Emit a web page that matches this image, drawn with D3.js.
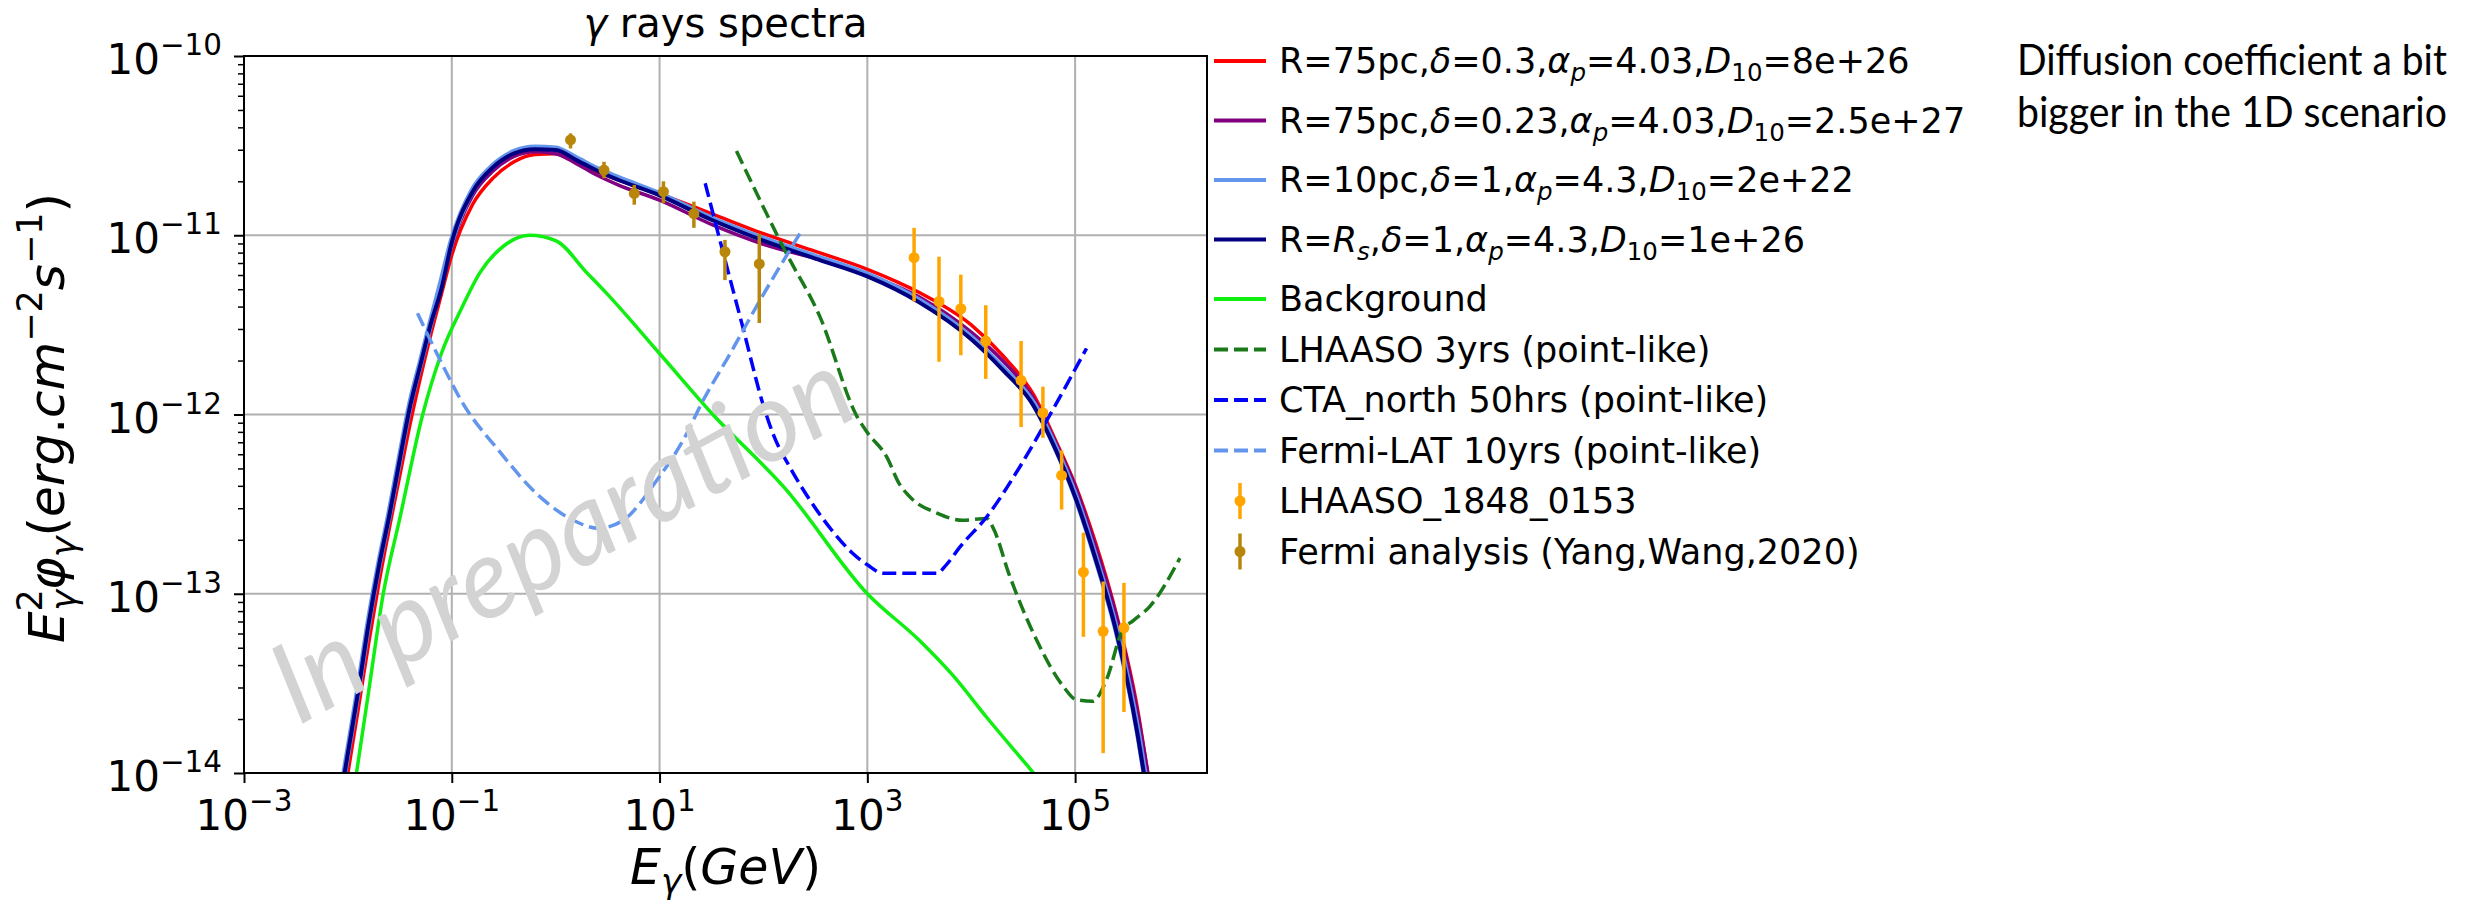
<!DOCTYPE html>
<html>
<head>
<meta charset="utf-8">
<script src="https://cdn.jsdelivr.net/npm/d3@7"></script>
<style>
  html, body { margin: 0; padding: 0; background: #fff; }
  svg text { font-family: "DejaVu Sans", sans-serif; fill: #000; }
</style>
</head>
<body>
<svg id="chart" width="2476" height="908"></svg>
<script>
// ---- data (E in GeV, E^2 phi in erg cm^-2 s^-1) ----

// energies shared by the four model curves
const modelEnergy = [0.0079, 0.01, 0.0126, 0.0158, 0.02, 0.0251, 0.0316, 0.0398, 0.0501, 0.0631, 0.0794, 0.1,
  0.158, 0.251, 0.398, 0.631, 1, 1.58, 2.51, 3.98,
  10, 31.6, 100, 316, 1000, 3162, 1e4,
  2e4, 3.98e4, 6.31e4, 1e5, 1.58e5, 2.51e5, 3.98e5, 5.01e5, 6.31e5];

const fluxR75d03 = [4.47e-15, 1.00e-14, 2.29e-14, 5.25e-14, 1.17e-13, 2.34e-13, 4.57e-13, 8.91e-13, 1.62e-12, 2.82e-12, 4.68e-12, 7.76e-12,
  1.48e-11, 2.09e-11, 2.57e-11, 2.82e-11, 2.85e-11, 2.57e-11, 2.26e-11, 2.04e-11,
  1.70e-11, 1.32e-11, 1.02e-11, 8.13e-12, 6.46e-12, 4.79e-12, 3.16e-12,
  2.14e-12, 1.29e-12, 7.41e-13, 4.07e-13, 1.91e-13, 7.59e-14, 2.29e-14, 1.00e-14, 4.47e-15];

const fluxR75d023 = [5.37e-15, 1.20e-14, 2.75e-14, 6.46e-14, 1.38e-13, 2.63e-13, 5.37e-13, 1.07e-12, 1.82e-12, 3.09e-12, 5.13e-12, 8.71e-12,
  1.66e-11, 2.29e-11, 2.75e-11, 2.92e-11, 2.85e-11, 2.51e-11, 2.16e-11, 1.91e-11,
  1.57e-11, 1.15e-11, 8.91e-12, 7.41e-12, 6.03e-12, 4.52e-12, 2.88e-12,
  2.00e-12, 1.23e-12, 7.24e-13, 3.98e-13, 1.82e-13, 7.41e-14, 2.19e-14, 1.00e-14, 4.47e-15];

const fluxR10 = [5.75e-15, 1.32e-14, 2.95e-14, 6.92e-14, 1.48e-13, 2.82e-13, 5.75e-13, 1.15e-12, 1.95e-12, 3.31e-12, 5.50e-12, 9.33e-12,
  1.78e-11, 2.45e-11, 2.92e-11, 3.09e-11, 3.05e-11, 2.69e-11, 2.34e-11, 2.09e-11,
  1.70e-11, 1.24e-11, 9.55e-12, 7.59e-12, 6.03e-12, 4.32e-12, 2.69e-12,
  1.82e-12, 1.15e-12, 6.76e-13, 3.55e-13, 1.58e-13, 6.17e-14, 1.74e-14, 7.59e-15, 3.31e-15];

const fluxRs = [5.62e-15, 1.29e-14, 2.88e-14, 6.76e-14, 1.45e-13, 2.75e-13, 5.62e-13, 1.12e-12, 1.91e-12, 3.24e-12, 5.01e-12, 9.12e-12,
  1.74e-11, 2.40e-11, 2.86e-11, 3.02e-11, 2.99e-11, 2.63e-11, 2.29e-11, 2.04e-11,
  1.67e-11, 1.22e-11, 9.33e-12, 7.41e-12, 5.89e-12, 4.22e-12, 2.63e-12,
  1.78e-12, 1.12e-12, 6.61e-13, 3.47e-13, 1.55e-13, 6.03e-14, 1.66e-14, 7.24e-15, 3.16e-15];

const bgEnergy = [0.01, 0.0121, 0.0158, 0.0219, 0.0316, 0.0525, 0.0794, 0.126, 0.186, 0.316, 0.562, 1,
  2, 3.16, 10, 31.6, 166, 1000, 3162, 6761, 14125, 39811, 50119];
const bgFlux = [4.68e-15, 1.0e-14, 2.82e-14, 1.0e-13, 2.63e-13, 1.0e-12, 2.19e-12, 3.98e-12, 6.17e-12, 8.71e-12, 1.0e-11, 9.33e-12,
  6.17e-12, 4.68e-12, 2.19e-12, 1.02e-12, 3.80e-13, 1.0e-13, 5.50e-14, 3.47e-14, 2.04e-14, 1.0e-14, 8.51e-15];

// sensitivity curves
const lhaasoSensE = [55, 166, 347, 794, 1000, 1550, 2000, 2570, 4680, 8320, 14100, 16200, 23400, 42700, 77600,
  1.02e5, 1.48e5, 2.0e5, 2.88e5, 3.63e5, 5.25e5, 1.02e6];
const lhaasoSensF = [2.95e-11, 7.94e-12, 3.55e-12, 9.77e-13, 7.94e-13, 5.75e-13, 4.17e-13, 3.47e-13, 2.82e-13, 2.57e-13, 2.63e-13, 2.34e-13, 1.26e-13, 5.50e-14, 3.02e-14,
  2.57e-14, 2.51e-14, 3.31e-14, 6.31e-14, 7.08e-14, 8.51e-14, 1.58e-13];

const ctaSensE = [27.5, 39.8, 63.1, 100, 126, 178, 282, 447, 708, 1000, 1413, 4677, 5754, 7762, 14125, 29512, 53703, 128825];
const ctaSensF = [1.95e-11, 8.51e-12, 3.09e-12, 1.12e-12, 7.59e-13, 5.13e-13, 3.31e-13, 2.29e-13, 1.70e-13, 1.45e-13, 1.30e-13, 1.30e-13, 1.45e-13, 1.82e-13, 2.69e-13, 5.13e-13, 9.33e-13, 2.34e-12];

const fermiSensE = [0.0468, 0.0776, 0.126, 0.282, 0.708, 1.48, 2.57, 4.47, 9.33, 17.0, 26.3, 47.9, 89.1, 224];
const fermiSensF = [3.67e-12, 2.00e-12, 1.17e-12, 6.31e-13, 3.47e-13, 2.57e-13, 2.32e-13, 2.57e-13, 4.27e-13, 7.24e-13, 1.20e-12, 2.19e-12, 4.17e-12, 1.02e-11];

// measured points
const lhaasoPtE = [2818, 4898, 7943, 13804, 30200, 48978, 74131, 120226, 186209, 295121];
const lhaasoPtF = [7.50e-12, 4.27e-12, 3.89e-12, 2.57e-12, 1.55e-12, 1.02e-12, 4.57e-13, 1.32e-13, 6.17e-14, 6.46e-14];
const lhaasoPtHi = [1.10e-11, 7.59e-12, 6.03e-12, 4.07e-12, 2.57e-12, 1.43e-12, 6.31e-13, 2.19e-13, 1.17e-13, 1.15e-13];
const lhaasoPtLo = [4.27e-12, 1.97e-12, 2.14e-12, 1.58e-12, 8.51e-13, 7.41e-13, 2.95e-13, 5.75e-14, 1.29e-14, 2.19e-14];

const fermiPtE = [1.39, 2.92, 5.71, 10.9, 21.4, 42.6, 91.2];
const fermiPtF = [3.40e-11, 2.31e-11, 1.71e-11, 1.75e-11, 1.32e-11, 8.09e-12, 6.92e-12];
const fermiPtHi = [3.70e-11, 2.57e-11, 1.91e-11, 2.00e-11, 1.54e-11, 9.42e-12, 1.02e-11];
const fermiPtLo = [3.05e-11, 2.08e-11, 1.48e-11, 1.51e-11, 1.10e-11, 5.62e-12, 3.24e-12];

// labels  (*x* italic, [x] italic subscript, {x} upright subscript, ^x^ superscript)
const seriesNames = [
  "R=75pc,*δ*=0.3,*α*[p]=4.03,*D*{10}=8e+26",
  "R=75pc,*δ*=0.23,*α*[p]=4.03,*D*{10}=2.5e+27",
  "R=10pc,*δ*=1,*α*[p]=4.3,*D*{10}=2e+22",
  "R=*R*[s],*δ*=1,*α*[p]=4.3,*D*{10}=1e+26",
  "Background",
  "LHAASO 3yrs (point-like)",
  "CTA_north 50hrs (point-like)",
  "Fermi-LAT 10yrs (point-like)",
  "LHAASO_1848_0153",
  "Fermi analysis (Yang,Wang,2020)"
];
const xTicks = [1e-3, 1e-1, 1e1, 1e3, 1e5];
const xTickExp = ["−3", "−1", "1", "3", "5"];
const yTicks = [1e-14, 1e-13, 1e-12, 1e-11, 1e-10];
const yTickExp = ["−14", "−13", "−12", "−11", "−10"];
const titleText = "*γ* rays spectra";
const xLabelText = "*E*[γ](*GeV*)";
const yLabelText = "*E*^2^[γ]*φ*[γ](*erg*.*cm*^−2^*s*^−1^)";
const noteLines = ["Diffusion coefficient a bit", "bigger in the 1D scenario"];
const watermarkText = "In preparation";

// ---- layout ----
const plot = {left: 244, right: 1207, top: 56, bottom: 773};
const svg = d3.select("#chart");

const x = d3.scaleLog().domain([1e-3, 1.86e6]).range([plot.left, plot.right]);
const y = d3.scaleLog().domain([1e-14, 1e-10]).range([plot.bottom, plot.top]);

// write a label with simple math markup into a text element
function rich(sel, str, size, subShift = 0.24) {
  const parts = str.split(/(\*[^*]+\*|\[[^\]]+\]|\{[^}]+\}|\^[^^]+\^)/).filter(s => s.length);
  let cur = 0, prevSupW = 0;
  parts.forEach(p => {
    let txt = p, it = false, target = 0, fs = size, dx = 0;
    const c = p[0];
    if (c === "*") { txt = p.slice(1, -1); it = true; }
    else if (c === "[") { txt = p.slice(1, -1); it = true; target = subShift * size; fs = 0.7 * size; }
    else if (c === "{") { txt = p.slice(1, -1); target = subShift * size; fs = 0.7 * size; }
    else if (c === "^") { txt = p.slice(1, -1); target = -0.45 * size; fs = 0.7 * size; }
    if ((c === "[") && prevSupW) dx = -prevSupW;
    const t = sel.append("tspan").text(txt).attr("font-size", fs).attr("dy", target - cur);
    if (dx) t.attr("dx", dx);
    if (it) t.attr("font-style", "italic");
    prevSupW = (c === "^") ? fs * 0.62 * txt.length : 0;
    cur = target;
  });
}

svg.append("rect").attr("width", 2476).attr("height", 908).attr("fill", "#fff");

// grid
const grid = svg.append("g").attr("stroke", "#b0b0b0").attr("stroke-width", 2);
grid.selectAll(".gx").data(xTicks).join("line")
  .attr("x1", d => x(d)).attr("x2", d => x(d)).attr("y1", plot.top).attr("y2", plot.bottom);
grid.selectAll(".gy").data(yTicks).join("line")
  .attr("y1", d => y(d)).attr("y2", d => y(d)).attr("x1", plot.left).attr("x2", plot.right);

// clip
svg.append("clipPath").attr("id", "clip").append("rect")
  .attr("x", plot.left).attr("y", plot.top)
  .attr("width", plot.right - plot.left).attr("height", plot.bottom - plot.top);

const line = d3.line().x(d => x(d[0])).y(d => y(d[1])).curve(d3.curveMonotoneX);
const zip = (a, b) => a.map((v, i) => [v, b[i]]);

const curves = [
  {pts: zip(modelEnergy, fluxR75d03), color: "#ff0000", w: 3.5},
  {pts: zip(modelEnergy, fluxR75d023), color: "#800080", w: 3.5},
  {pts: zip(modelEnergy, fluxR10), color: "#6495ed", w: 6},
  {pts: zip(modelEnergy, fluxRs), color: "#000080", w: 4},
  {pts: zip(bgEnergy, bgFlux), color: "#11ee11", w: 3.5},
  {pts: zip(lhaasoSensE, lhaasoSensF), color: "#1a7a1a", w: 3.5, dash: "14,6"},
  {pts: zip(ctaSensE, ctaSensF), color: "#0000ff", w: 3.5, dash: "14,6"},
  {pts: zip(fermiSensE, fermiSensF), color: "#6495ed", w: 3.5, dash: "14,6"}
];

const plotG = svg.append("g").attr("clip-path", "url(#clip)");
plotG.selectAll("path.curve").data(curves).join("path")
  .attr("class", "curve")
  .attr("d", d => line(d.pts))
  .attr("fill", "none")
  .attr("stroke", d => d.color)
  .attr("stroke-width", d => d.w)
  .attr("stroke-dasharray", d => d.dash || null);

const pointSets = [
  {E: lhaasoPtE, F: lhaasoPtF, hi: lhaasoPtHi, lo: lhaasoPtLo, color: "#ffa500"},
  {E: fermiPtE, F: fermiPtF, hi: fermiPtHi, lo: fermiPtLo, color: "#b8860b"}
];
pointSets.forEach(s => {
  const g = plotG.append("g");
  g.selectAll("line").data(s.E).join("line")
    .attr("x1", d => x(d)).attr("x2", d => x(d))
    .attr("y1", (d, i) => y(s.hi[i])).attr("y2", (d, i) => y(s.lo[i]))
    .attr("stroke", s.color).attr("stroke-width", 3.5);
  g.selectAll("circle").data(s.E).join("circle")
    .attr("cx", d => x(d)).attr("cy", (d, i) => y(s.F[i])).attr("r", 5.5)
    .attr("fill", s.color);
});

// frame
svg.append("rect").attr("x", plot.left).attr("y", plot.top)
  .attr("width", plot.right - plot.left).attr("height", plot.bottom - plot.top)
  .attr("fill", "none").attr("stroke", "#000").attr("stroke-width", 2);

// axes ticks
const tickStyle = g => { g.select(".domain").remove(); g.selectAll("line").attr("stroke", "#000").attr("stroke-width", 2); };
svg.append("g").attr("transform", `translate(0,${plot.bottom})`)
  .call(d3.axisBottom(x).tickValues(xTicks).tickSize(10).tickFormat(() => "")).call(tickStyle);
svg.append("g").attr("transform", `translate(${plot.left},0)`)
  .call(d3.axisLeft(y).tickValues(yTicks).tickSize(10).tickFormat(() => "")).call(tickStyle);
const yMinor = y.ticks().filter(v => !yTicks.some(t => Math.abs(t - v) / t < 1e-6));
svg.append("g").attr("transform", `translate(${plot.left},0)`)
  .call(d3.axisLeft(y).tickValues(yMinor).tickSize(6).tickFormat(() => ""))
  .call(tickStyle).call(g => g.selectAll("line").attr("stroke-width", 1.5));

// tick labels
const tickFont = 42;
xTicks.forEach((t, i) => {
  const tx = svg.append("text").attr("x", x(t)).attr("y", 830)
    .attr("text-anchor", "middle").attr("font-size", tickFont);
  rich(tx, "10^" + xTickExp[i] + "^", tickFont);
});
yTicks.forEach((t, i) => {
  const tx = svg.append("text").attr("x", 222).attr("y", y(t) + 18)
    .attr("text-anchor", "end").attr("font-size", tickFont);
  rich(tx, "10^" + yTickExp[i] + "^", tickFont);
});

// title and axis labels
rich(svg.append("text").attr("x", (plot.left + plot.right) / 2).attr("y", 37)
  .attr("text-anchor", "middle").attr("font-size", 40), titleText, 40);
rich(svg.append("text").attr("x", (plot.left + plot.right) / 2).attr("y", 884)
  .attr("text-anchor", "middle").attr("font-size", 49), xLabelText, 49, 0.18);
rich(svg.append("text").attr("transform", `translate(64,418) rotate(-90)`)
  .attr("text-anchor", "middle").attr("font-size", 50), yLabelText, 50);

// legend: rows holding sub/superscripts are taller
const legendStyle = [
  {color: "#ff0000"}, {color: "#800080"}, {color: "#6495ed"}, {color: "#000080"},
  {color: "#11ee11"}, {color: "#1a7a1a", dash: "14,6"}, {color: "#0000ff", dash: "14,6"},
  {color: "#6495ed", dash: "14,6"}, {color: "#ffa500", pt: true}, {color: "#b8860b", pt: true}
];
const legend = svg.append("g").attr("transform", "translate(1214,0)");
const tall = s => /[\[{^]/.test(s);
let rowY = 61;
seriesNames.forEach((name, i) => {
  if (i > 0) rowY += (tall(name) || tall(seriesNames[i - 1])) ? 59.5 : 50.5;
  const st = legendStyle[i];
  const row = legend.append("g").attr("transform", `translate(0,${rowY})`);
  if (st.pt) {
    row.append("line").attr("x1", 26).attr("x2", 26).attr("y1", -18).attr("y2", 18)
      .attr("stroke", st.color).attr("stroke-width", 3.5);
    row.append("circle").attr("cx", 26).attr("cy", 0).attr("r", 5.5).attr("fill", st.color);
  } else {
    row.append("line").attr("x1", 0).attr("x2", 52).attr("y1", 0).attr("y2", 0)
      .attr("stroke", st.color).attr("stroke-width", 4)
      .attr("stroke-dasharray", st.dash || null);
  }
  const tx = row.append("text").attr("x", 65).attr("y", 12).attr("font-size", 35).attr("fill", "#1a1a1a");
  rich(tx, name, 35);
});

// side note, squeezed to the width it has on the slide
noteLines.forEach((s, i) => {
  const t = svg.append("text")
    .style("font-family", "Lato, 'Open Sans', sans-serif").attr("font-size", 42)
    .attr("fill", "#111").text(s);
  const k = 430 / t.node().getComputedTextLength();
  t.attr("transform", `translate(2017,${75 + i * 52}) scale(${k},1)`);
});

// watermark
svg.append("text")
  .attr("transform", "translate(580,570) rotate(-29)")
  .attr("text-anchor", "middle")
  .style("font-family", "Lato, 'Open Sans', sans-serif")
  .attr("font-style", "italic").attr("font-size", 112)
  .attr("textLength", 645).attr("lengthAdjust", "spacingAndGlyphs")
  .style("fill", "#d3d3d3")
  .text(watermarkText);
</script>
</body>
</html>
